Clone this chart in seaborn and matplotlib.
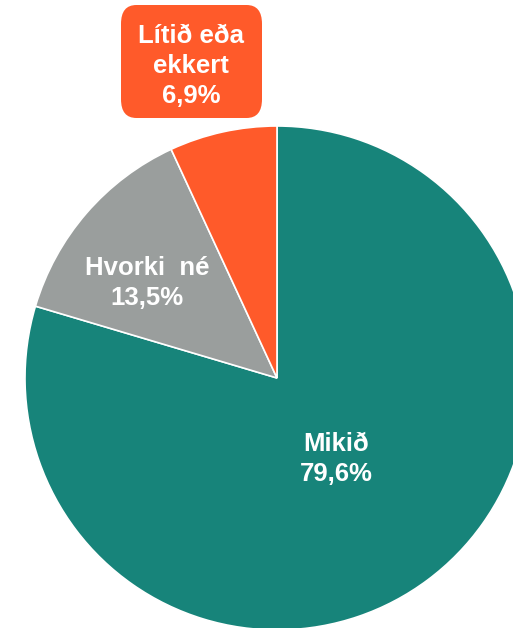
import matplotlib
matplotlib.use("Agg")
import matplotlib.pyplot as plt
from matplotlib.patches import FancyBboxPatch
import seaborn as sns

# Survey answer shares (percent)
categories = ["Mikið", "Hvorki né", "Lítið eða ekkert"]
shares = [79.6, 13.5, 6.9]
colors = ["#17847A", "#9A9E9D", "#FF5A2A"]

sns.set_theme(style="white")
plt.rcParams["font.family"] = ["Liberation Sans", "DejaVu Sans"]

W, H = 513, 628
fig = plt.figure(figsize=(W / 100, H / 100), dpi=100)
fig.patch.set_facecolor("white")

# Pie centred at (277, 378) px with radius 252 px
cx, cy, r = 277, 378, 252
ax = fig.add_axes([(cx - r) / W, (H - cy - r) / H, 2 * r / W, 2 * r / H])
ax.pie(shares, colors=colors, startangle=90, counterclock=False,
       wedgeprops=dict(edgecolor="white", linewidth=1.2))
ax.set_xlim(-1, 1)
ax.set_ylim(-1, 1)
ax.set_aspect("equal")
ax.axis("off")


def fmt(v):
    return f"{v:.1f}".replace(".", ",") + "%"


FS = 18.5
LS = 1.3

label_pos = {
    "Mikið": (336, 459),
    "Hvorki né": (147, 283),
}
for name, val in zip(categories, shares):
    if name in label_pos:
        px, py = label_pos[name]
        shown = name.replace(" ", "  ")
        fig.text(px / W, (H - py) / H, f"{shown}\n{fmt(val)}", ha="center", va="center",
                 color="white", fontsize=FS, fontweight="bold", linespacing=LS)

# Callout box for the smallest slice
bx0, by0, bx1, by1 = 121, 5, 262, 118
box = FancyBboxPatch(((bx0) / W, (H - by1) / H), (bx1 - bx0) / W, (by1 - by0) / H,
                     boxstyle="round,pad=0,rounding_size=0.03",
                     transform=fig.transFigure, facecolor=colors[2], edgecolor="none")
fig.patches.append(box)
small_name = categories[2].replace(" ekkert", "\nekkert")
fig.text(191 / W, (H - 66) / H, f"{small_name}\n{fmt(shares[2])}", ha="center", va="center",
         color="white", fontsize=FS, fontweight="bold", linespacing=LS)

fig.savefig("out.png", dpi=100, facecolor="white")
